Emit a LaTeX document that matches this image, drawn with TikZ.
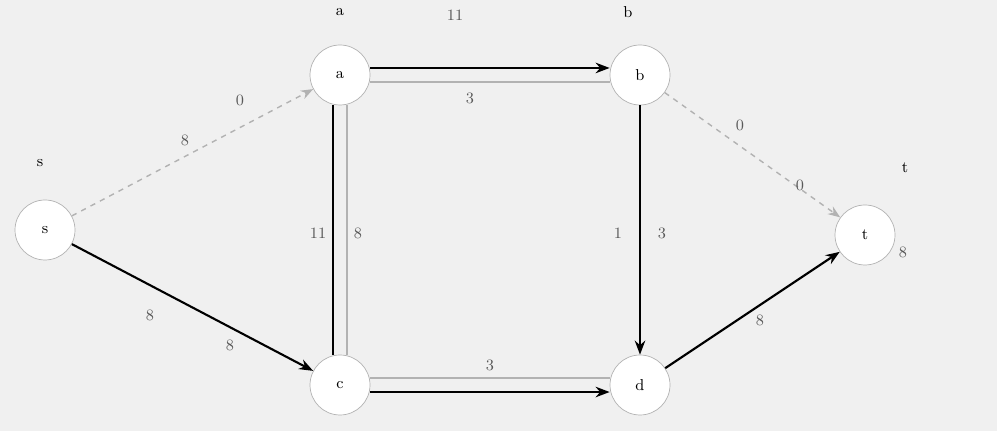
\documentclass[tikz,border=0pt]{standalone}
\usetikzlibrary{arrows.meta}
\begin{document}
\begin{tikzpicture}[x=0.02cm,y=-0.02cm,
  vert/.style={circle,draw=gray!60,fill=white,minimum size=1.2cm,inner sep=0pt,font=\small},
  flow/.style={draw=black,line width=1.2pt,-{Stealth[length=8pt]}},
  resid/.style={draw=gray!60,line width=0.8pt},
  lbl/.style={font=\small,text=gray!70!black},
  vname/.style={font=\small,text=black}]
\fill[gray!12] (0,0) rectangle (997,431);
\useasboundingbox (0,0) rectangle (997,431);
\node[vert] (s) at (45,230) {s};
\node[vert] (a) at (340,75) {a};
\node[vert] (b) at (640,75) {b};
\node[vert] (t) at (865,235) {t};
\node[vert] (c) at (340,385) {c};
\node[vert] (d) at (640,385) {d};
\node[vname] (ns) at (40,163) {s};
\node[vname] (na) at (340,12) {a};
\node[vname] (nb) at (628,12) {b};
\node[vname] (nt) at (905,168) {t};
% edges
\draw[resid,dashed,-{Stealth[length=7pt]}] (s) -- (a);
\draw[flow] (s) -- (c);
\draw[flow] ([yshift=4pt]a.east) -- ([yshift=4pt]b.west);
\draw[resid] ([yshift=-4pt]a.east) -- ([yshift=-4pt]b.west);
\draw[flow,-] ([xshift=-4pt]a.south) -- ([xshift=-4pt]c.north);
\draw[resid] ([xshift=4pt]a.south) -- ([xshift=4pt]c.north);
\draw[flow] (b) -- (d);
\draw[flow] ([yshift=-4pt]c.east) -- ([yshift=-4pt]d.west);
\draw[resid] ([yshift=4pt]c.east) -- ([yshift=4pt]d.west);
\draw[resid,dashed,-{Stealth[length=7pt]}] (b) -- (t);
\draw[flow] (d) -- (t);
% labels
\node[lbl] (l1) at (185,140) {8};
\node[lbl] (l2) at (240,100) {0};
\node[lbl] (l3) at (150,315) {8};
\node[lbl] (l4) at (230,345) {8};
\node[lbl] (l5) at (455,15) {11};
\node[lbl] (l6) at (470,98) {3};
\node[lbl] (l7) at (318,233) {11};
\node[lbl] (l8) at (358,233) {8};
\node[lbl] (l9) at (618,233) {1};
\node[lbl] (l10) at (662,233) {3};
\node[lbl] (l11) at (490,365) {3};
\node[lbl] (l12) at (740,125) {0};
\node[lbl] (l13) at (800,185) {0};
\node[lbl] (l14) at (760,320) {8};
\node[lbl] (l15) at (903,252) {8};
\end{tikzpicture}
\end{document}
